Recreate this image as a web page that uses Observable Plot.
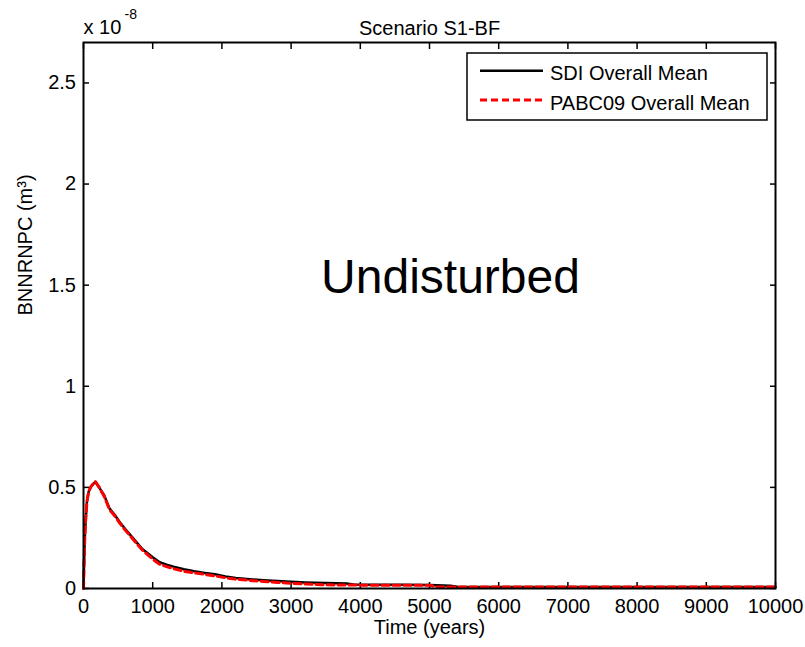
<!DOCTYPE html>
<html><head><meta charset="utf-8">
<script src="https://cdn.jsdelivr.net/npm/d3@7"></script>
<script src="https://cdn.jsdelivr.net/npm/@observablehq/plot@0.6"></script>
<style>body{margin:0;background:#fff;} svg{overflow:visible}</style>
</head><body><div id="chart"></div>
<script>
// Time (years)
const time = [0, 10, 20, 30, 50, 75, 110, 170, 230, 300, 375, 450, 520, 600, 700, 850, 1000, 1100, 1200, 1300, 1450, 1600, 1750, 1900, 2050, 2200, 2400, 2600, 2800, 3000, 3200, 3500, 3800, 3900, 4200, 4600, 5000, 5100, 5300, 5400, 6000, 7000, 8000, 9000, 10000];
// values in units of 1e-8 m^3
const sdi = [0, 0.15, 0.26, 0.33, 0.43, 0.48, 0.505, 0.528, 0.498, 0.46, 0.396, 0.365, 0.33, 0.295, 0.255, 0.195, 0.155, 0.13, 0.118, 0.108, 0.095, 0.085, 0.077, 0.07, 0.06, 0.052, 0.046, 0.041, 0.037, 0.033, 0.03, 0.027, 0.025, 0.02, 0.018, 0.018, 0.017, 0.016, 0.014, 0.009, 0.008, 0.008, 0.008, 0.008, 0.008];
const pabc = [0, 0.15, 0.26, 0.33, 0.43, 0.48, 0.505, 0.53, 0.498, 0.455, 0.39, 0.36, 0.325, 0.29, 0.25, 0.19, 0.145, 0.12, 0.108, 0.098, 0.085, 0.077, 0.07, 0.062, 0.053, 0.046, 0.04, 0.035, 0.03, 0.026, 0.022, 0.018, 0.017, 0.017, 0.016, 0.016, 0.016, 0.008, 0.007, 0.007, 0.007, 0.007, 0.007, 0.007, 0.007];
const xTicks = [0, 1000, 2000, 3000, 4000, 5000, 6000, 7000, 8000, 9000, 10000];
const yTicks = [0, 0.5, 1, 1.5, 2, 2.5];
const seriesNames = ["SDI Overall Mean", "PABC09 Overall Mean"];
const seriesColors = ["#000000", "#ff0000"];
const titleText = "Scenario S1-BF";
const annotation = "Undisturbed";
const xLabel = "Time (years)";
const yLabel = "BNNRNPC (m³)";
const expBase = "x 10";
const expPow = "-8";

const sdiData = time.map((t, i) => ({t, v: sdi[i]}));
const pabcData = time.map((t, i) => ({t, v: pabc[i]}));

const FONT = "'Liberation Sans', Arial, Helvetica, sans-serif";

const chart = Plot.plot({
  width: 805, height: 647,
  marginLeft: 83, marginRight: 30, marginTop: 42, marginBottom: 59,
  style: {fontFamily: FONT, fontSize: "20px", background: "#fff", color: "#000", overflow: "visible"},
  x: {domain: [0, 10000]},
  y: {domain: [0, 2.7]},
  marks: [
    Plot.axisX(xTicks, {anchor: "bottom", tickSize: -6, tickPadding: 16, tickFormat: d => String(d), label: null, strokeWidth: 1.5, fontSize: 20}),
    Plot.axisX(xTicks, {anchor: "top", tickSize: -6, tickFormat: () => "", label: null, strokeWidth: 1.5}),
    Plot.axisY(yTicks, {anchor: "left", tickSize: -6, tickPadding: 13.5, tickFormat: d => String(d), label: null, strokeWidth: 1.5, fontSize: 20}),
    Plot.axisY(yTicks, {anchor: "right", tickSize: -6, tickFormat: () => "", label: null, strokeWidth: 1.5}),
    Plot.line(sdiData, {x: "t", y: "v", stroke: seriesColors[0], strokeWidth: 2.5}),
    Plot.line(pabcData, {x: "t", y: "v", stroke: seriesColors[1], strokeWidth: 3, strokeDasharray: "7,4"}),
    Plot.frame({stroke: "#000", strokeWidth: 2}),
    Plot.text([titleText], {frameAnchor: "top", dy: -22, fontSize: 20}),
    Plot.text([annotation], {frameAnchor: "middle", dx: 21, dy: -38, fontSize: 48}),
    Plot.text([xLabel], {frameAnchor: "bottom", dy: 45, fontSize: 20}),
    Plot.text([yLabel], {frameAnchor: "left", dx: -58, rotate: -90, fontSize: 20}),
    Plot.text([expBase], {frameAnchor: "top-left", dy: -9, textAnchor: "start", lineAnchor: "bottom", fontSize: 20}),
    Plot.text([expPow], {frameAnchor: "top-left", dx: 41, dy: -23.5, textAnchor: "start", lineAnchor: "bottom", fontSize: 14})
  ]
});

// Legend (MATLAB-style boxed legend in the upper-right of the axes)
const svg = d3.select(chart);
const lg = svg.append("g").attr("font-family", FONT).attr("font-size", 20).attr("text-anchor", "start");
lg.append("rect").attr("x", 467).attr("y", 53).attr("width", 300).attr("height", 67)
  .attr("fill", "#fff").attr("stroke", "#000").attr("stroke-width", 1.5);
const rows = [70.7, 100];
seriesNames.forEach((name, i) => {
  lg.append("line").attr("x1", 480).attr("x2", 543).attr("y1", rows[i]).attr("y2", rows[i])
    .attr("stroke", seriesColors[i]).attr("stroke-width", i === 0 ? 2.5 : 3)
    .attr("stroke-dasharray", i === 0 ? null : "7,4");
  lg.append("text").attr("x", 550).attr("y", rows[i] + 9.5).attr("fill", "#000")
    .attr("text-anchor", "start").text(name);
});

document.getElementById("chart").appendChild(chart);
</script>
</body></html>
